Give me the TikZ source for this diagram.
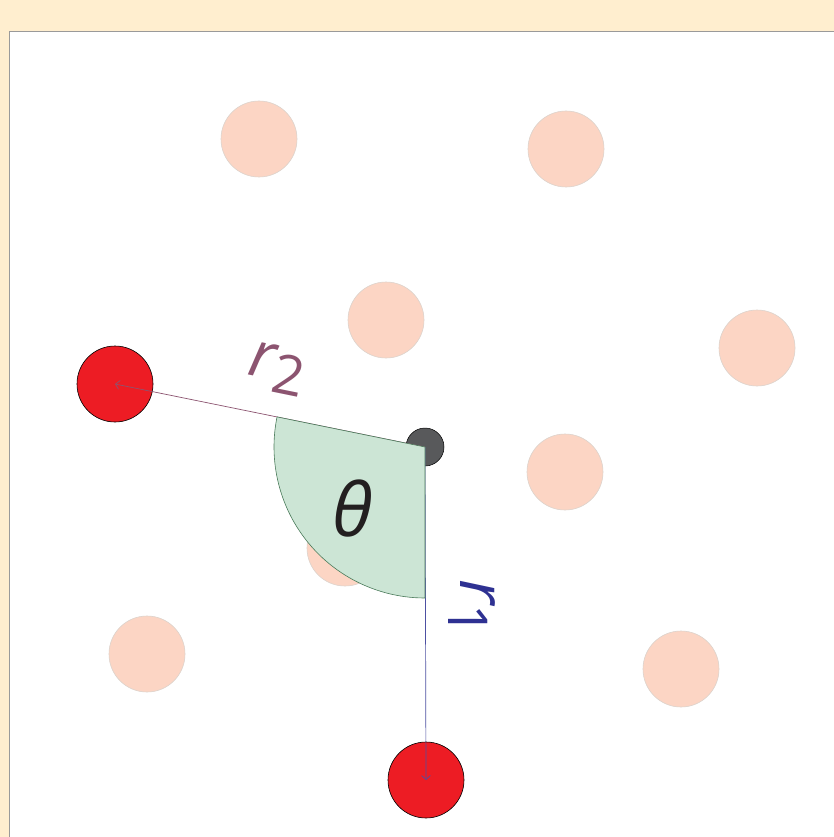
\documentclass[tikz,border=0pt]{standalone}
\usepackage{fontspec}
\setmainfont{Open Sans}
\usetikzlibrary{arrows.meta}
\definecolor{cream}{HTML}{FFEECF}
\definecolor{framegray}{HTML}{9A9A9A}
\definecolor{peach}{HTML}{FCD5C4}
\definecolor{peachline}{HTML}{DDD3CC}
\definecolor{redatom}{HTML}{ED1C24}
\definecolor{darkatom}{HTML}{58595B}
\definecolor{wedgefill}{HTML}{CCE5D5}
\definecolor{wedgeline}{HTML}{4A7A5A}
\definecolor{rtwo}{HTML}{8C5470}
\definecolor{rone}{HTML}{2E3192}
\definecolor{thetacol}{HTML}{231F20}
\tikzset{
  bgatom/.style={circle,minimum size=76pt,inner sep=0pt,fill=peach,draw=peachline,line width=0.6pt},
  redball/.style={circle,minimum size=76pt,inner sep=0pt,fill=redatom,draw=black,line width=0.6pt},
  centreball/.style={circle,minimum size=38pt,inner sep=0pt,fill=darkatom,draw=black,line width=0.5pt},
  vecline/.style={line width=0.7pt,-{Straight Barb[length=4pt,width=9pt]}},
  lbl/.style={inner sep=0pt,font=\fontsize{64}{64}\selectfont}
}
\newcommand{\lowsub}[1]{\raisebox{-12pt}{\upshape\fontsize{55}{55}\selectfont #1}}
\begin{document}
\begin{tikzpicture}[x=1pt,y=-1pt]
\useasboundingbox (0,0) rectangle (834,837);
\fill[cream] (0,0) rectangle (834,837);
\filldraw[fill=white,draw=framegray,line width=0.8pt] (9.5,31.5) rectangle (840,845);
% background atoms
\node[bgatom] (b1) at (259,139) {};
\node[bgatom] (b2) at (566,149) {};
\node[bgatom] (b3) at (386,320) {};
\node[bgatom] (b4) at (757,348) {};
\node[bgatom] (b5) at (565,472) {};
\node[bgatom] (b6) at (345,548) {};
\node[bgatom] (b7) at (147,654) {};
\node[bgatom] (b8) at (681,669) {};
% atoms
\node[redball] (a2) at (115,384) {};
\node[redball] (a1) at (426,780) {};
\node[centreball] (c) at (425,447) {};
% vectors
\draw[vecline,draw=rtwo] (c.center) -- (a2.center);
\draw[vecline,draw=rone!85!white] (c.center) -- (a1.center);
% angle wedge
\filldraw[fill=wedgefill,draw=wedgeline,line width=0.6pt]
  (c.center) -- ++(0,151) arc[start angle=90,end angle=191.5,radius=151] -- cycle;
% labels
\node[lbl,text=thetacol,font=\fontsize{74}{74}\selectfont] (th) at (353,509) {\itshape θ};
\node[lbl,text=rtwo,rotate=-11.5] (l2) at (277,369) {\itshape r\lowsub{2}};
\node[lbl,text=rone,rotate=-90] (l1) at (472,608) {\itshape r\lowsub{1}};
\end{tikzpicture}
\end{document}
